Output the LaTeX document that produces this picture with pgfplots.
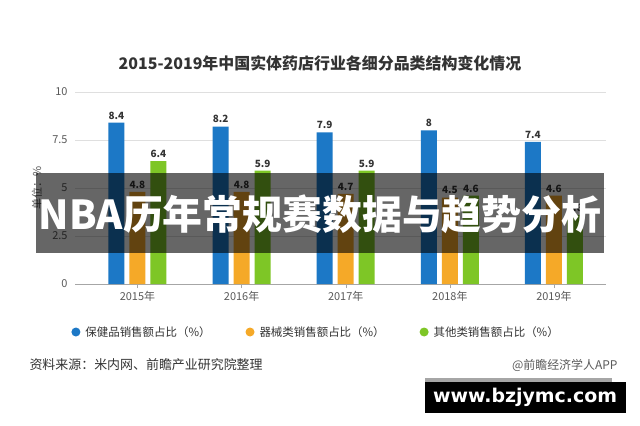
\documentclass[border=0pt]{standalone}
\usepackage{pgfplots}
\pgfplotsset{compat=1.18}
\usepackage{fontspec}
\setmainfont{Noto Sans CJK SC}
\newfontfamily\dejavu{DejaVu Sans}
\definecolor{cblue}{RGB}{28,120,198}
\definecolor{corange}{RGB}{245,169,40}
\definecolor{cgreen}{RGB}{126,198,38}
\definecolor{txt}{RGB}{51,51,51}
\definecolor{ltxt}{RGB}{90,90,90}
\begin{document}
\begin{tikzpicture}
\path[use as bounding box] (0,0) rectangle (640bp,-426bp);
\fill[white] (0,0) rectangle (640bp,-426bp);
\node[font=\bfseries\fontsize{16}{18}\selectfont, text=txt] at (320bp,-63bp) {2015-2019年中国实体药店行业各细分品类结构变化情况};
\begin{axis}[
  at={(75bp,-284bp)}, anchor=south west,
  scale only axis, width=531bp, height=192bp,
  xmin=-0.6, xmax=4.5, ymin=0, ymax=10,
  /pgf/number format/assume math mode=true,
  xtick={0,1,2,3,4},
  xticklabels={2015年,2016年,2017年,2018年,2019年},
  ytick={0,2.5,5,7.5,10},
  yticklabels={0,2.5,5,7.5,10},
  axis x line*=bottom, axis y line*=left,
  y axis line style={draw=none},
  x axis line style={draw=gray!70, line width=0.8pt},
  ymajorgrids, grid style={gray!25, line width=0.6pt},
  major y tick style={draw=none},
  major x tick style={draw=gray!70},
  tick align=outside, major tick length=4bp,
  ticklabel style={font=\fontsize{11}{12}\selectfont, text=ltxt},
  bar width=16bp,
  nodes near coords,
  every node near coord/.append style={font=\bfseries\fontsize{10}{11}\selectfont, text=txt},
  legend columns=3,
  legend style={at={(0.454,-0.25)}, anchor=center, draw=none,
    font=\fontsize{11.5}{13}\selectfont, text=txt,
    /tikz/every odd column/.append style={column sep=3bp},
    /tikz/every even column/.append style={column sep=33bp}},
  legend image code/.code={\fill[#1,draw=none] (0bp,0bp) circle (4.5bp);},
]
\addplot[ybar, fill=cblue, draw=none, bar shift=-21bp,
  every node near coord/.append style={xshift=-21bp}] coordinates {(0,8.4)(1,8.2)(2,7.9)(3,8)(4,7.4)};
\addplot[ybar, fill=corange, draw=none, bar shift=0bp] coordinates {(0,4.8)(1,4.8)(2,4.7)(3,4.5)(4,4.6)};
\addplot[ybar, fill=cgreen, draw=none, bar shift=21bp,
  every node near coord/.append style={xshift=21bp}] coordinates {(0,6.4)(1,5.9)(2,5.9)(3,4.6)(4,3.6)};
\legend{保健品销售额占比（\%）,器械类销售额占比（\%）,其他类销售额占比（\%）}
\end{axis}
\node[rotate=90, font=\fontsize{11}{12}\selectfont, text=ltxt] at (37bp,-188bp) {单位：\%};
\node[anchor=west, font=\fontsize{13}{14}\selectfont, text=txt] at (26bp,-365bp) {资料来源：米内网、前瞻产业研究院整理};
\node[anchor=east, font=\fontsize{12}{14}\selectfont, text=ltxt] at (621bp,-365bp) {@前瞻经济学人APP};
\fill[black, opacity=0.6] (36bp,-173bp) rectangle (604bp,-253bp);
\node[text=white, font=\bfseries\fontsize{40}{40}\selectfont, inner sep=0pt] at (320bp,-214bp) {NBA历年常规赛数据与趋势分析};
\fill[gray!70] (425bp,-378bp) rectangle (612bp,-384bp);
\fill[black] (425bp,-382bp) rectangle (626bp,-413bp);
\node[text=white, font=\dejavu\bfseries\fontsize{19}{19}\selectfont] at (525bp,-397bp) {www.bzjymc.com};
\end{tikzpicture}
\end{document}
